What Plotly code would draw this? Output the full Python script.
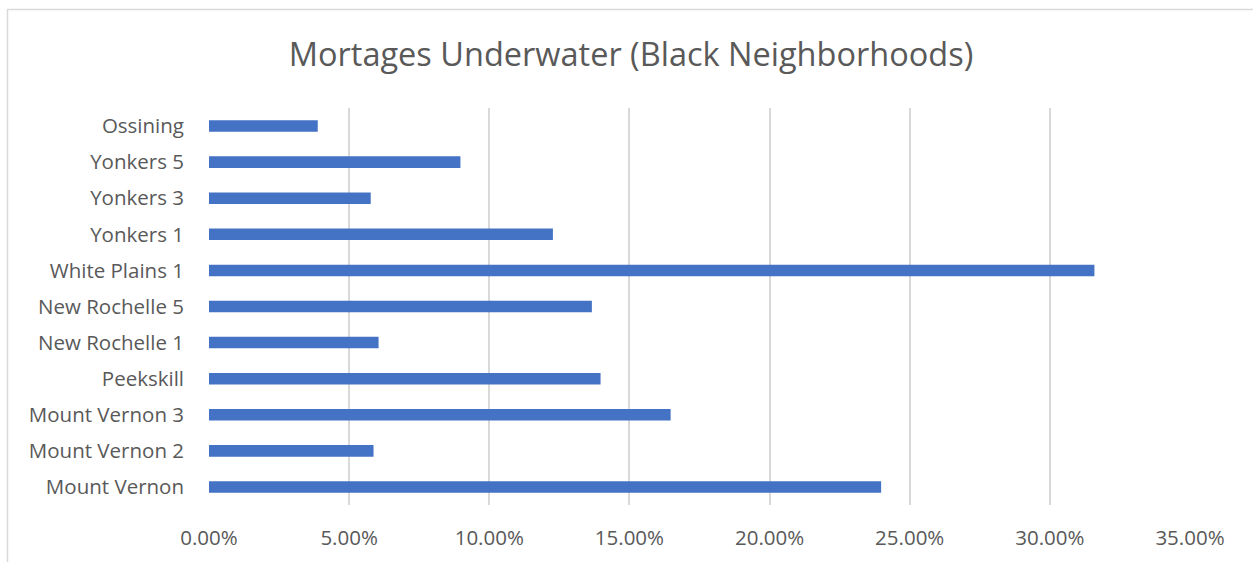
import plotly.graph_objects as go

# Neighborhoods listed bottom-to-top as they appear on the category axis
neighborhoods = [
    "Mount Vernon", "Mount Vernon 2", "Mount Vernon 3", "Peekskill",
    "New Rochelle 1", "New Rochelle 5", "White Plains 1", "Yonkers 1",
    "Yonkers 3", "Yonkers 5", "Ossining",
]
# Share of mortgages underwater (fraction)
underwater_share = [
    0.2398, 0.0587, 0.1647, 0.1397,
    0.0605, 0.1366, 0.3159, 0.1227,
    0.0577, 0.0897, 0.0388,
]
x_ticks = [0, 0.05, 0.10, 0.15, 0.20, 0.25, 0.30, 0.35]

FONT = "Open Sans"
TEXT = "#595959"
GRID = "#D9D9D9"

fig = go.Figure(
    go.Bar(
        y=neighborhoods,
        x=underwater_share,
        orientation="h",
        marker=dict(color="#4472C4", line=dict(width=0)),
        hoverinfo="x+y",
    )
)

W, H = 1253, 562
L, R, T, B = 209, 63, 108, 57
pw, ph = W - L - R, H - T - B

def px_x(p):
    return (p - L) / pw

def px_y(p):
    return 1 - (p - T) / ph

fig.update_layout(
    width=W,
    height=H,
    margin=dict(l=L, r=R, t=T, b=B, pad=0),
    paper_bgcolor="white",
    plot_bgcolor="white",
    bargap=0.68,
    showlegend=False,
    font=dict(family=FONT, color=TEXT),
    title=dict(
        text="Mortages Underwater (Black Neighborhoods)",
        xref="container", x=631 / W, xanchor="center",
        yref="container", y=1 - 55 / H, yanchor="middle",
        font=dict(family=FONT, size=32.5, color=TEXT),
    ),
    xaxis=dict(
        range=[0, 0.35],
        tickvals=x_ticks,
        tickformat=".2%",
        showgrid=True,
        gridcolor=GRID,
        gridwidth=1.5,
        zeroline=False,
        showline=False,
        ticks="",
        tickfont=dict(family=FONT, size=20.5, color=TEXT),
        ticklabelstandoff=18,
        fixedrange=True,
    ),
    yaxis=dict(
        categoryorder="array",
        categoryarray=neighborhoods,
        showgrid=False,
        zeroline=False,
        showline=False,
        ticks="",
        tickfont=dict(family=FONT, size=20.5, color=TEXT),
        ticklabelstandoff=24,
        fixedrange=True,
    ),
    shapes=[
        dict(
            type="rect", xref="paper", yref="paper",
            x0=px_x(7.5), x1=px_x(1300), y0=px_y(600), y1=px_y(9.5),
            line=dict(color=GRID, width=1.5), fillcolor="rgba(0,0,0,0)",
            layer="below",
        )
    ],
)

fig.write_html("out.html")
